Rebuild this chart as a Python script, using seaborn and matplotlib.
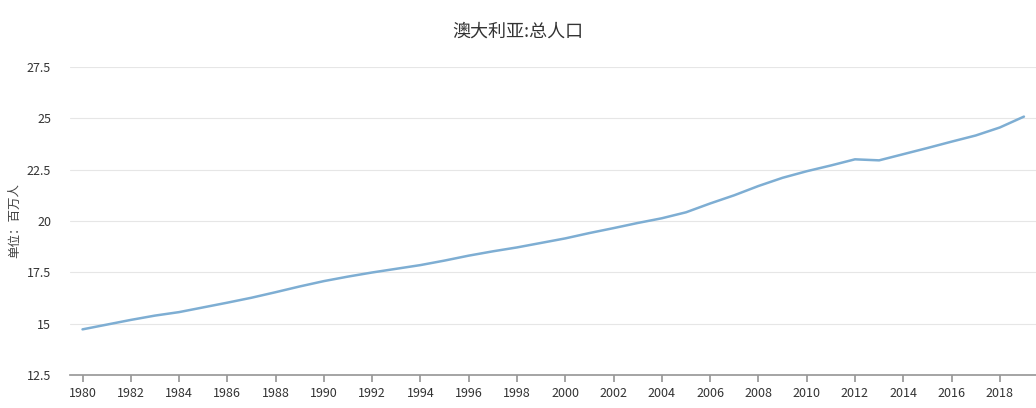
import numpy as np
import matplotlib
matplotlib.use("Agg")
import matplotlib.pyplot as plt
import seaborn as sns
import pandas as pd

years = list(range(1980, 2020))
population = [14.72, 14.95, 15.18, 15.39, 15.56, 15.79, 16.02, 16.26, 16.53, 16.81,
              17.07, 17.29, 17.49, 17.67, 17.85, 18.07, 18.31, 18.52, 18.71, 18.93,
              19.15, 19.41, 19.65, 19.90, 20.13, 20.42, 20.85, 21.25, 21.70, 22.10,
              22.42, 22.70, 23.00, 22.95, 23.25, 23.55, 23.86, 24.16, 24.55, 25.08]
xticks = list(range(1980, 2019, 2))
yticks = [12.5, 15, 17.5, 20, 22.5, 25, 27.5]

sns.set_theme(style="white")
plt.rcParams['font.family'] = ['Noto Sans CJK SC', 'DejaVu Sans']

df = pd.DataFrame({"year": years, "pop": population})
fig = plt.figure(figsize=(10.36, 4.08), dpi=100)
ax = fig.add_axes([0.068, 0.081, 0.932, 0.755])
sns.lineplot(data=df, x="year", y="pop", ax=ax, color="#7eaed3", linewidth=1.8)

ax.set_xlim(1979.5, 2019.5)
ax.set_ylim(12.5, 27.5)
ax.set_xticks(xticks)
ax.set_yticks(yticks)
ax.set_yticklabels(["12.5", "15", "17.5", "20", "22.5", "25", "27.5"])
ax.tick_params(axis="both", labelsize=9, colors="#333333")
ax.tick_params(axis="x", length=5, color="#999999", bottom=True)
ax.tick_params(axis="y", length=0, pad=14)
ax.grid(axis="y", color="#e6e6e6", linewidth=0.8)
for s in ["top", "right", "left"]:
    ax.spines[s].set_visible(False)
ax.spines["bottom"].set_color("#999999")
ax.set_xlabel("")
ax.set_ylabel("单位：百万人", fontsize=9, color="#444444")
fig.suptitle("澳大利亚:总人口", y=0.945, fontsize=13, color="#333333")
fig.savefig("out.png", dpi=100)
